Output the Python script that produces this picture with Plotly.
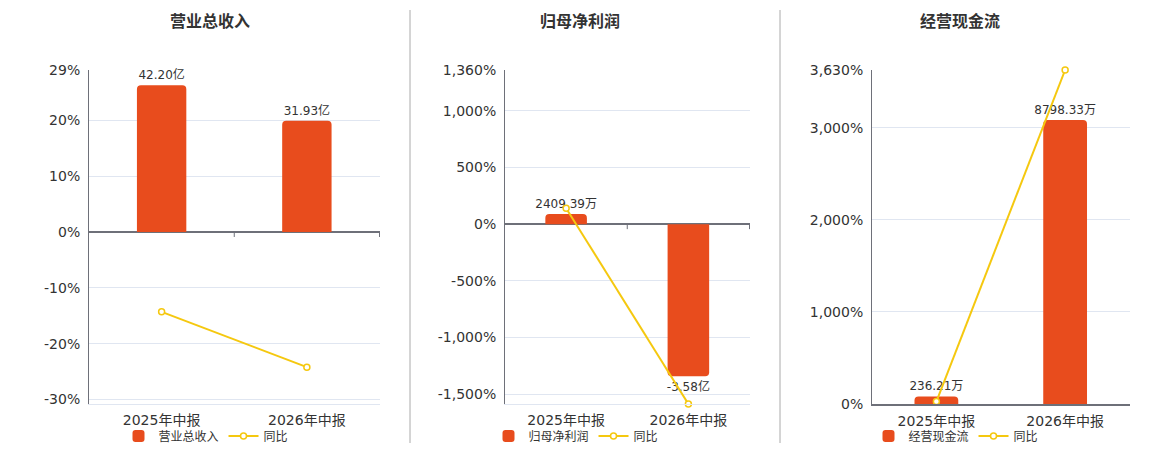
import plotly.graph_objects as go

# ---------------- data ----------------
categories = ["2025年中报", "2026年中报"]

titles = ["营业总收入", "归母净利润", "经营现金流"]

revenue_yuan = [4.220e9, 3.193e9]
revenue_labels = ["42.20亿", "31.93亿"]
revenue_yoy = [-14.3, -24.2]

profit_yuan = [2.40939e7, -3.58e8]
profit_labels = ["2409.39万", "-3.58亿"]
profit_yoy = [141.0, -1587.0]

cash_yuan = [2.3621e6, 8.79833e7]
cash_labels = ["236.21万", "8798.33万"]
cash_yoy = [27.0, 3630.0]

yoy_ticks_1 = [29, 20, 10, 0, -10, -20, -30]
yoy_ticktext_1 = ["29%", "20%", "10%", "0%", "-10%", "-20%", "-30%"]
yoy_ticks_2 = [1360, 1000, 500, 0, -500, -1000, -1500]
yoy_ticktext_2 = ["1,360%", "1,000%", "500%", "0%", "-500%", "-1,000%", "-1,500%"]
yoy_ticks_3 = [3630, 3000, 2000, 1000, 0]
yoy_ticktext_3 = ["3,630%", "3,000%", "2,000%", "1,000%", "0%"]

yoy_name = "同比"

# ---------------- style / layout ----------------
W, H = 1160, 450
FONT = "DejaVu Sans, Noto Sans CJK SC, sans-serif"
BAR_COLOR = "#E84C1D"
LINE_COLOR = "#F5C80F"
TEXT = "#333333"
AXIS = "#6E7079"
GRID = "#E0E6F1"

plot_top_px, plot_bot_px = 70, 404
y_dom = [1 - plot_bot_px / H, 1 - plot_top_px / H]

panels = [
    dict(x0=89, x1=380, bars=revenue_yuan, labels=revenue_labels, yoy=revenue_yoy,
         prange=[-30.8, 29], bar_top=46.55e8, tv=yoy_ticks_1, tt=yoy_ticktext_1, title=titles[0]),
    dict(x0=505, x1=750, bars=profit_yuan, labels=profit_labels, yoy=profit_yoy,
         prange=[-1587, 1360], bar_top=3.63e8, tv=yoy_ticks_2, tt=yoy_ticktext_2, title=titles[1]),
    dict(x0=872, x1=1130, bars=cash_yuan, labels=cash_labels, yoy=cash_yoy,
         prange=[0, 3630], bar_top=1.035e8, tv=yoy_ticks_3, tt=yoy_ticktext_3, title=titles[2]),
]

fig = go.Figure()
layout = dict(
    width=W, height=H,
    margin=dict(l=0, r=0, t=0, b=0, autoexpand=False),
    paper_bgcolor="white", plot_bgcolor="white",
    font=dict(family=FONT, color=TEXT, size=12),
    showlegend=True,
    bargap=0.66,
    barcornerradius=4,
    annotations=[], shapes=[],
)

for i, p in enumerate(panels):
    n = i + 1
    xa = "x" if n == 1 else f"x{n}"
    yb_idx = 2 * i + 1
    yl_idx = 2 * i + 2
    yb = "y" if yb_idx == 1 else f"y{yb_idx}"
    yl = f"y{yl_idx}"
    leg = "legend" if n == 1 else f"legend{n}"

    lo, hi = p["prange"]
    bar_range = [lo / hi * p["bar_top"], p["bar_top"]]

    fig.add_trace(go.Bar(
        x=categories, y=p["bars"], xaxis=xa, yaxis=yb,
        name=p["title"], marker=dict(color=BAR_COLOR, line=dict(width=0)),
        text=p["labels"], textposition="outside", cliponaxis=False,
        constraintext="none",
        textfont=dict(size=12, color=TEXT, family=FONT),
        legend=leg, hoverinfo="skip",
    ))
    fig.add_trace(go.Scatter(
        x=categories, y=p["yoy"], xaxis=xa, yaxis=yl,
        name=yoy_name, mode="lines+markers",
        line=dict(color=LINE_COLOR, width=2),
        marker=dict(symbol="circle", size=6, color="white",
                    line=dict(color=LINE_COLOR, width=1.5)),
        cliponaxis=False, legend=leg, hoverinfo="skip",
    ))

    dom = [p["x0"] / W, p["x1"] / W]
    layout["xaxis" if n == 1 else f"xaxis{n}"] = dict(
        domain=dom, anchor=yb, type="category",
        showgrid=False, zeroline=False,
        showline=True, linecolor=GRID if lo < 0 else AXIS, linewidth=1 if lo < 0 else 2,
        ticks="", tickfont=dict(size=14, color=TEXT, family=FONT),
        ticklabelstandoff=3, fixedrange=True, automargin=False,
    )
    layout["yaxis" if yb_idx == 1 else f"yaxis{yb_idx}"] = dict(
        domain=y_dom, anchor=xa, range=bar_range, visible=False,
        showgrid=False, zeroline=False, fixedrange=True, automargin=False,
    )
    layout[f"yaxis{yl_idx}"] = dict(
        domain=y_dom, anchor=xa, overlaying=yb, side="left", range=[lo, hi],
        tickvals=p["tv"], ticktext=p["tt"],
        showgrid=True, gridcolor=GRID, gridwidth=1,
        zeroline=True, zerolinecolor=AXIS, zerolinewidth=2,
        showline=True, linecolor=AXIS, linewidth=1,
        ticks="", ticklabelstandoff=5, automargin=False,
        tickfont=dict(size=14, color=TEXT, family=FONT), fixedrange=True,
    )

    # small tick marks below the zero line at the category boundaries
    for k in range(1, len(categories) + 1):
        layout["shapes"].append(dict(
            type="line", xref=xa, yref=yl,
            x0=k - 0.5, x1=k - 0.5,
            ysizemode="pixel", yanchor=0, y0=0, y1=-5,
            line=dict(color=AXIS, width=1),
        ))

    title_cx = {0: 210, 1: 580, 2: 960}[i]
    layout["annotations"].append(dict(
        text=p["title"], x=title_cx / W, y=1 - 22 / H, xref="paper", yref="paper",
        xanchor="center", yanchor="middle", showarrow=False,
        font=dict(size=16, color=TEXT, family=FONT, weight="bold"),
    ))
    layout[leg] = dict(
        orientation="h", x=(title_cx - 4) / W, xanchor="center",
        y=1 - 436 / H, yanchor="middle",
        font=dict(size=12, color=TEXT, family=FONT),
        bgcolor="rgba(0,0,0,0)", itemwidth=30, tracegroupgap=0,
    )

for sx in [410, 780]:
    layout["shapes"].append(dict(
        type="line", xref="paper", yref="paper",
        x0=sx / W, x1=sx / W, y0=1 - 443 / H, y1=1 - 10 / H,
        line=dict(color="#AAAAAA", width=1),
    ))

fig.update_layout(**layout)
fig.write_html(
    "out.html",
    config={"displayModeBar": False},
    post_script="document.body.style.margin='0';document.body.style.padding='0';",
)
